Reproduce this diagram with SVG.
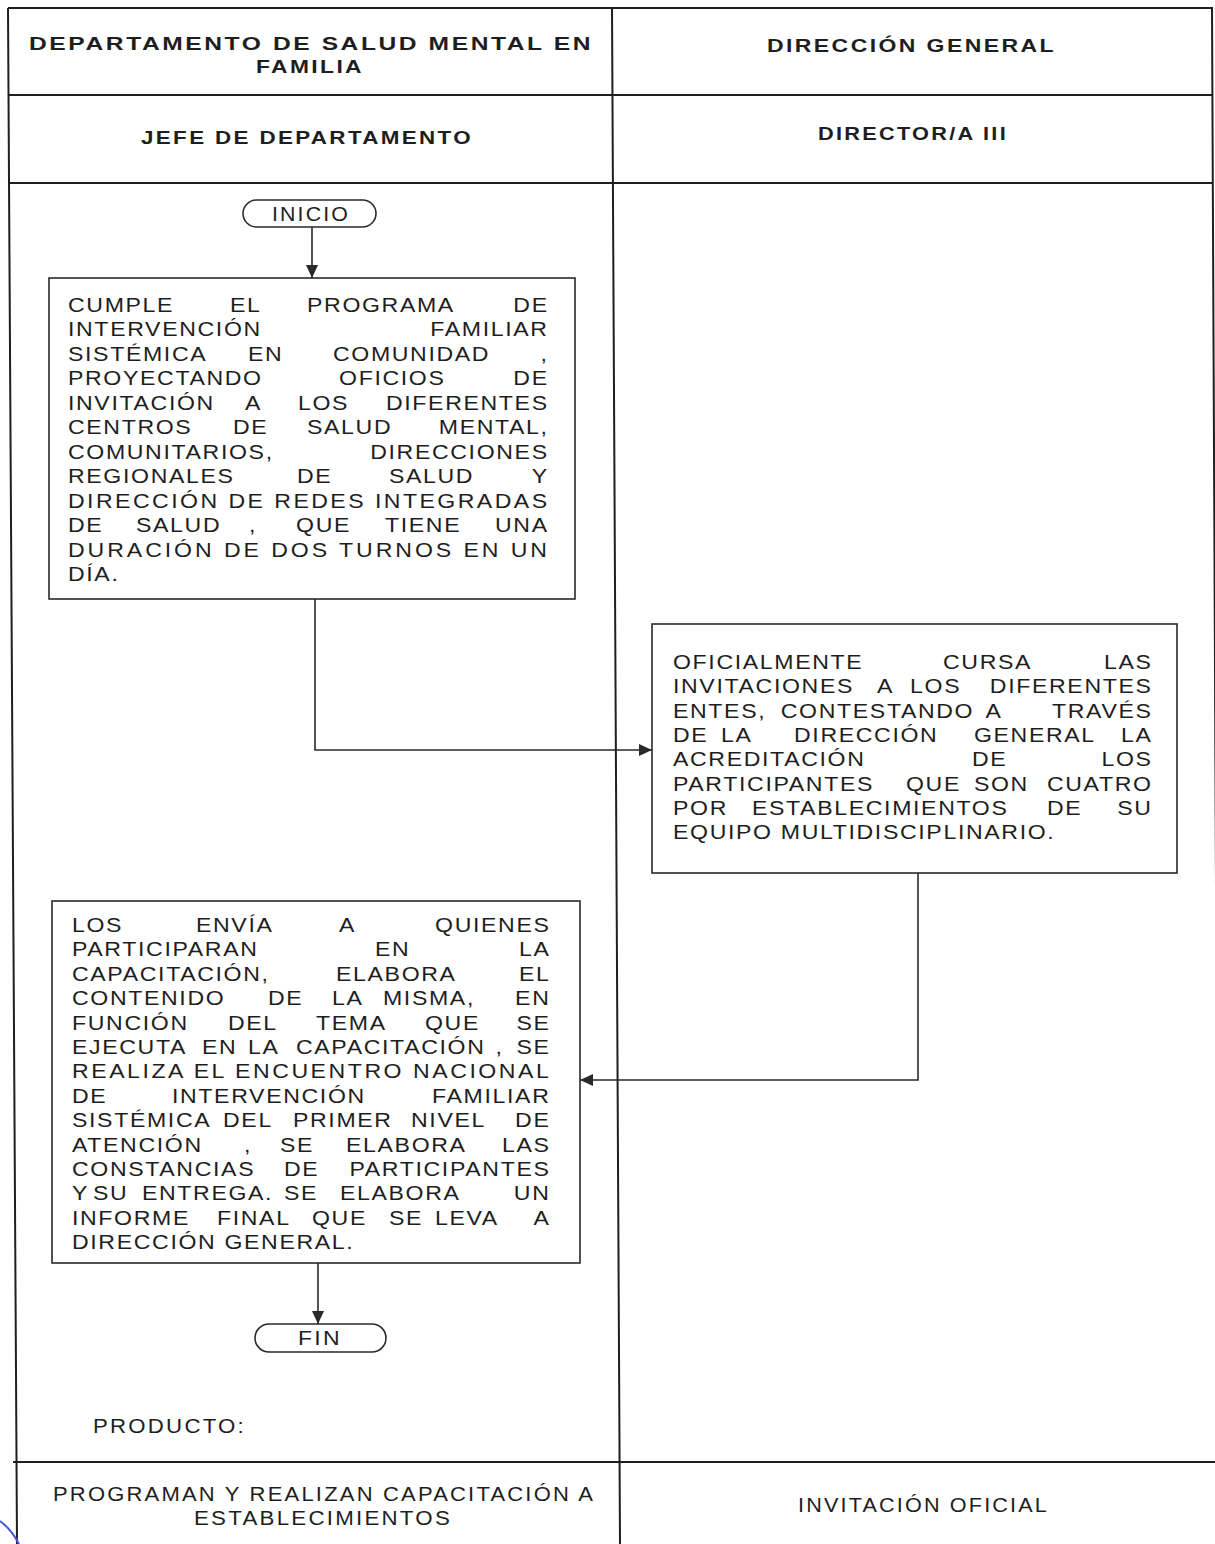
<svg xmlns="http://www.w3.org/2000/svg" width="1215" height="1544" viewBox="0 0 1215 1544">
<defs>
<style>
.grid{stroke:#1f1f1f;stroke-width:2;fill:none}
.box{fill:none;stroke:#2a2a2a;stroke-width:1.6}
.term{fill:#fff;stroke:#2a2a2a;stroke-width:1.6}
.conn{fill:none;stroke:#2a2a2a;stroke-width:1.6}
text{font-family:"Liberation Sans",Arial,sans-serif;fill:#1e1e1e}
.h{font-size:19px;font-weight:bold;letter-spacing:2px}
.b{font-size:21px;letter-spacing:1.5px}
.e{text-anchor:end}
.f{font-size:20px;letter-spacing:2px}
</style>
<marker id="arr" markerUnits="userSpaceOnUse" markerWidth="14" markerHeight="12" refX="13" refY="6" orient="auto">
<path d="M0,0 L13,6 L0,12 Z" fill="#2a2a2a"/>
</marker>
</defs>
<rect width="1215" height="1544" fill="#fff"/>

<g id="table">
<path class="grid" d="M8,8 H1213 M8,95 H1213 M8,183 H1213 M13,1462 H1215 M8,8 L17,1544 M612,8 L620,1544 M1212,8 L1219,1544"/>
<path d="M0,1521 Q11,1529 19,1544" fill="none" stroke="#4257d6" stroke-width="2"/>
</g>

<g id="header">
<text class="h" x="29" y="50" textLength="564" lengthAdjust="spacingAndGlyphs">DEPARTAMENTO DE SALUD MENTAL EN</text>
<text class="h" x="256" y="73" textLength="108" lengthAdjust="spacingAndGlyphs">FAMILIA</text>
<text class="h" x="767" y="52" textLength="289" lengthAdjust="spacingAndGlyphs">DIRECCIÓN GENERAL</text>
<text class="h" x="141" y="144" textLength="332" lengthAdjust="spacingAndGlyphs">JEFE DE DEPARTAMENTO</text>
<text class="h" x="818" y="140" textLength="190" lengthAdjust="spacingAndGlyphs">DIRECTOR/A III</text>
</g>

<g id="connectors">
<path class="conn" d="M312,227 V278" marker-end="url(#arr)"/>
<path class="conn" d="M315,599 V750 H652" marker-end="url(#arr)"/>
<path class="conn" d="M918,873 V1080 H580" marker-end="url(#arr)"/>
<path class="conn" d="M318,1263 V1324" marker-end="url(#arr)"/>
</g>

<g id="inicio">
<rect class="term" x="243" y="200" width="133" height="27" rx="13.5"/>
<text class="f" x="272" y="221" textLength="78" lengthAdjust="spacingAndGlyphs">INICIO</text>
</g>

<g id="paso1">
<rect class="box" x="49" y="278" width="526" height="321"/>
<g transform="matrix(1.1,0,0,1,-6.8,0)">
<text class="b" x="68" y="312">CUMPLE</text><text class="b" x="215.3" y="312">EL</text><text class="b" x="285.3" y="312">PROGRAMA</text><text class="b e" x="505" y="312">DE</text>
<text class="b" x="68" y="336">INTERVENCIÓN</text><text class="b e" x="505" y="336">FAMILIAR</text>
<text class="b" x="68" y="361">SISTÉMICA</text><text class="b" x="231.6" y="361">EN</text><text class="b" x="308.9" y="361">COMUNIDAD</text><text class="b e" x="505" y="361">,</text>
<text class="b" x="68" y="385">PROYECTANDO</text><text class="b" x="314.4" y="385">OFICIOS</text><text class="b e" x="505" y="385">DE</text>
<text class="b" x="68" y="410">INVITACIÓN</text><text class="b" x="228.9" y="410">A</text><text class="b" x="277.1" y="410">LOS</text><text class="b e" x="505" y="410">DIFERENTES</text>
<text class="b" x="68" y="434">CENTROS</text><text class="b" x="218" y="434">DE</text><text class="b" x="285.3" y="434">SALUD</text><text class="b e" x="505" y="434">MENTAL,</text>
<text class="b" x="68" y="459">COMUNITARIOS,</text><text class="b e" x="505" y="459">DIRECCIONES</text>
<text class="b" x="68" y="483">REGIONALES</text><text class="b" x="276.2" y="483">DE</text><text class="b" x="359.8" y="483">SALUD</text><text class="b e" x="505" y="483">Y</text>
<text class="b" x="68" y="508" textLength="437" lengthAdjust="spacing">DIRECCIÓN DE REDES INTEGRADAS</text>
<text class="b" x="68" y="532">DE</text><text class="b" x="129.8" y="532">SALUD</text><text class="b" x="232.5" y="532">,</text><text class="b" x="275.3" y="532">QUE</text><text class="b" x="356.2" y="532">TIENE</text><text class="b e" x="505" y="532">UNA</text>
<text class="b" x="68" y="557" textLength="437" lengthAdjust="spacing">DURACIÓN DE DOS TURNOS EN UN</text>
<text class="b" x="68" y="581">DÍA.</text>
</g>
</g>

<g id="paso2">
<rect class="box" x="652" y="624" width="525" height="249"/>
<g transform="matrix(1.1,0,0,1,-67.3,0)">
<text class="b" x="673" y="669">OFICIALMENTE</text><text class="b" x="918.5" y="669">CURSA</text><text class="b e" x="1109" y="669">LAS</text>
<text class="b" x="673" y="693">INVITACIONES</text><text class="b" x="858.5" y="693">A</text><text class="b" x="888.5" y="693">LOS</text><text class="b e" x="1109" y="693">DIFERENTES</text>
<text class="b" x="673" y="718">ENTES,</text><text class="b" x="771" y="718">CONTESTANDO</text><text class="b" x="957" y="718">A</text><text class="b e" x="1109" y="718">TRAVÉS</text>
<text class="b" x="673" y="742">DE</text><text class="b" x="716.6" y="742">LA</text><text class="b" x="783" y="742">DIRECCIÓN</text><text class="b" x="946.6" y="742">GENERAL</text><text class="b e" x="1109" y="742">LA</text>
<text class="b" x="673" y="766">ACREDITACIÓN</text><text class="b" x="944.8" y="766">DE</text><text class="b e" x="1109" y="766">LOS</text>
<text class="b" x="673" y="791">PARTICIPANTES</text><text class="b" x="884.8" y="791">QUE</text><text class="b" x="946.6" y="791">SON</text><text class="b e" x="1109" y="791">CUATRO</text>
<text class="b" x="673" y="815">POR</text><text class="b" x="744.8" y="815">ESTABLECIMIENTOS</text><text class="b" x="1013" y="815">DE</text><text class="b e" x="1109" y="815">SU</text>
<text class="b" x="673" y="839">EQUIPO MULTIDISCIPLINARIO.</text>
</g>
</g>

<g id="paso3">
<rect class="box" x="52" y="901" width="528" height="362"/>
<g transform="matrix(1.1,0,0,1,-7.2,0)">
<text class="b" x="72" y="932">LOS</text><text class="b" x="184.7" y="932">ENVÍA</text><text class="b" x="314.7" y="932">A</text><text class="b e" x="507" y="932">QUIENES</text>
<text class="b" x="72" y="956">PARTICIPARAN</text><text class="b" x="347.5" y="956">EN</text><text class="b e" x="507" y="956">LA</text>
<text class="b" x="72" y="981">CAPACITACIÓN,</text><text class="b" x="312" y="981">ELABORA</text><text class="b e" x="507" y="981">EL</text>
<text class="b" x="72" y="1005">CONTENIDO</text><text class="b" x="250.2" y="1005">DE</text><text class="b" x="308.4" y="1005">LA</text><text class="b" x="354.7" y="1005">MISMA,</text><text class="b e" x="507" y="1005">EN</text>
<text class="b" x="72" y="1030">FUNCIÓN</text><text class="b" x="213.8" y="1030">DEL</text><text class="b" x="293.8" y="1030">TEMA</text><text class="b" x="392.9" y="1030">QUE</text><text class="b e" x="507" y="1030">SE</text>
<text class="b" x="72" y="1054">EJECUTA</text><text class="b" x="190.2" y="1054">EN</text><text class="b" x="232" y="1054">LA</text><text class="b" x="275.6" y="1054">CAPACITACIÓN</text><text class="b" x="457" y="1054">,</text><text class="b e" x="507" y="1054">SE</text>
<text class="b" x="72" y="1078" textLength="435" lengthAdjust="spacing">REALIZA EL ENCUENTRO NACIONAL</text>
<text class="b" x="72" y="1103">DE</text><text class="b" x="162.9" y="1103">INTERVENCIÓN</text><text class="b e" x="507" y="1103">FAMILIAR</text>
<text class="b" x="72" y="1127">SISTÉMICA</text><text class="b" x="209.3" y="1127">DEL</text><text class="b" x="272.9" y="1127">PRIMER</text><text class="b" x="380.2" y="1127">NIVEL</text><text class="b e" x="507" y="1127">DE</text>
<text class="b" x="72" y="1152">ATENCIÓN</text><text class="b" x="228.4" y="1152">,</text><text class="b" x="261.1" y="1152">SE</text><text class="b" x="321.1" y="1152">ELABORA</text><text class="b e" x="507" y="1152">LAS</text>
<text class="b" x="72" y="1176">CONSTANCIAS</text><text class="b" x="264.7" y="1176">DE</text><text class="b e" x="507" y="1176">PARTICIPANTES</text>
<text class="b" x="72" y="1200">Y</text><text class="b" x="91.1" y="1200">SU</text><text class="b" x="135.6" y="1200">ENTREGA.</text><text class="b" x="264.7" y="1200">SE</text><text class="b" x="315.6" y="1200">ELABORA</text><text class="b e" x="507" y="1200">UN</text>
<text class="b" x="72" y="1225">INFORME</text><text class="b" x="203.8" y="1225">FINAL</text><text class="b" x="290.2" y="1225">QUE</text><text class="b" x="360.2" y="1225">SE</text><text class="b" x="402" y="1225">LEVA</text><text class="b e" x="507" y="1225">A</text>
<text class="b" x="72" y="1249">DIRECCIÓN GENERAL.</text>
</g>
</g>

<g id="fin">
<rect class="term" x="255" y="1324" width="131" height="28" rx="14"/>
<text class="f" x="298" y="1345" textLength="44" lengthAdjust="spacingAndGlyphs">FIN</text>
</g>

<g id="producto">
<text class="f" x="93" y="1433" textLength="153" lengthAdjust="spacingAndGlyphs">PRODUCTO:</text>
<text class="f" x="53" y="1501" textLength="542" lengthAdjust="spacingAndGlyphs">PROGRAMAN Y REALIZAN CAPACITACIÓN A</text>
<text class="f" x="194" y="1525" textLength="258" lengthAdjust="spacingAndGlyphs">ESTABLECIMIENTOS</text>
<text class="f" x="798" y="1512" textLength="251" lengthAdjust="spacingAndGlyphs">INVITACIÓN OFICIAL</text>
</g>
</svg>
